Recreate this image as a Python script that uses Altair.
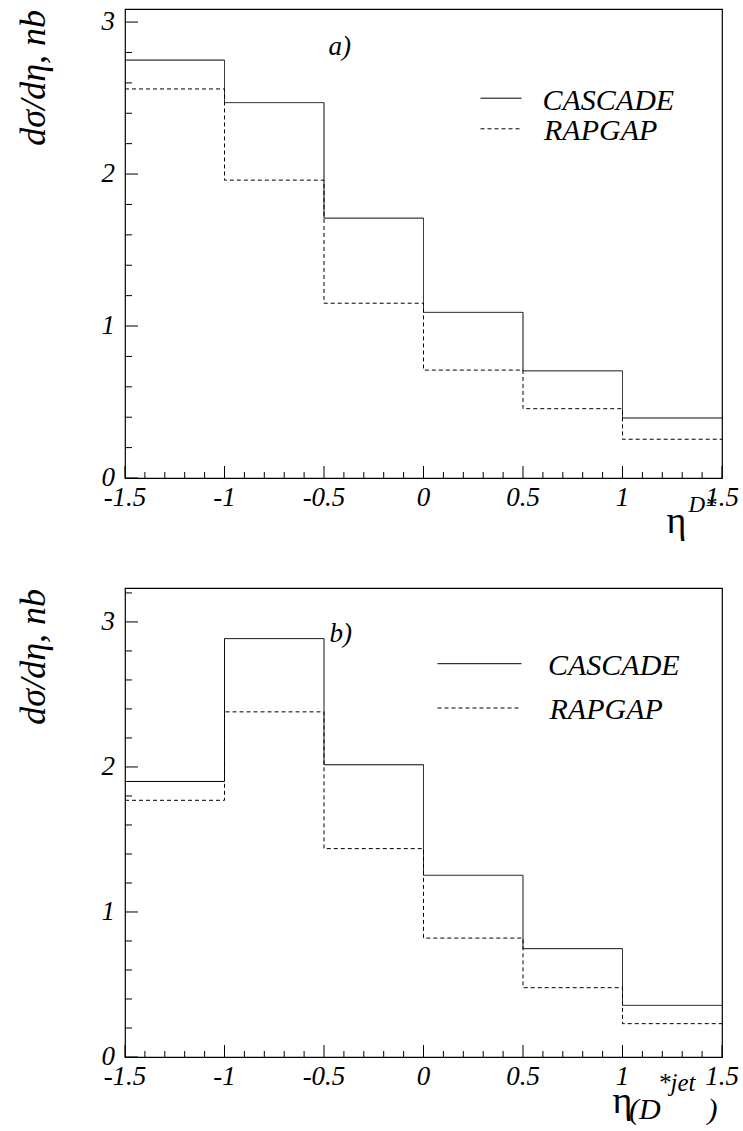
import altair as alt
import pandas as pd

# ---- data ----
edges = [-1.5, -1.0, -0.5, 0.0, 0.5, 1.0, 1.5]
series = ["CASCADE", "RAPGAP"]
cascade_a = [2.75, 2.47, 1.71, 1.09, 0.705, 0.395]
rapgap_a = [2.56, 1.96, 1.15, 0.71, 0.456, 0.255]
cascade_b = [1.90, 2.885, 2.015, 1.253, 0.747, 0.356]
rapgap_b = [1.77, 2.38, 1.437, 0.82, 0.478, 0.23]
ymax_a = 3.086
ymax_b = 3.234

x_major = [-1.5, -1.0, -0.5, 0.0, 0.5, 1.0, 1.5]
x_labels = ["-1.5", "-1", "-0.5", "0", "0.5", "1", "1.5"]
x_minor = [-1.4, -1.3, -1.2, -1.1, -0.9, -0.8, -0.7, -0.6, -0.4, -0.3, -0.2, -0.1,
           0.1, 0.2, 0.3, 0.4, 0.6, 0.7, 0.8, 0.9, 1.1, 1.2, 1.3, 1.4]
y_major = [0, 1, 2, 3]
y_labels = ["0", "1", "2", "3"]
y_minor = [0.2, 0.4, 0.6, 0.8, 1.2, 1.4, 1.6, 1.8, 2.2, 2.4, 2.6, 2.8, 3.2]
y_title = "dσ/dη, nb"

FONT = "Liberation Serif"
W, H = 597, 469


def txt(s, x, y, size, style="italic", align="left", angle=0):
    kw = dict(font=FONT, fontStyle=style, fontSize=size, align=align,
              baseline="alphabetic", color="black")
    if angle:
        kw["angle"] = angle
    return alt.Chart(pd.DataFrame({"s": [s]})).mark_text(**kw).encode(
        text="s:N", x=alt.value(x), y=alt.value(y))


def panel(cas, rap, ymax, tag, tag_pos, leg, xtitle):
    xs = alt.Scale(domain=[-1.5, 1.5], nice=False, zero=False)
    ys = alt.Scale(domain=[0, ymax], nice=False, zero=False)

    rows = []
    for name, vals in zip(series, [cas, rap]):
        for i, e in enumerate(edges):
            rows.append({"x": e, "y": vals[min(i, len(vals) - 1)], "series": name})
    df = pd.DataFrame(rows)

    lines = alt.Chart(df).mark_line(interpolate="step-after", color="black",
                                    strokeWidth=1).encode(
        x=alt.X("x:Q", scale=xs, axis=None),
        y=alt.Y("y:Q", scale=ys, axis=None),
        strokeDash=alt.StrokeDash("series:N", scale=alt.Scale(
            domain=series, range=[[1, 0], [4, 3]]), legend=None),
    )

    def xt(vals, length):
        return alt.Chart(pd.DataFrame({"v": vals})).mark_rule(
            color="black", strokeWidth=1).encode(
            x=alt.X("v:Q", scale=xs, axis=None),
            y=alt.value(H), y2=alt.value(H - length))

    def yt(vals, length):
        vals = [v for v in vals if v <= ymax]
        return alt.Chart(pd.DataFrame({"v": vals})).mark_rule(
            color="black", strokeWidth=1).encode(
            y=alt.Y("v:Q", scale=ys, axis=None),
            x=alt.value(0), x2=alt.value(length))

    xlab = alt.Chart(pd.DataFrame({"v": x_major, "t": x_labels})).mark_text(
        font=FONT, fontStyle="italic", fontSize=27, align="center",
        baseline="alphabetic", color="black").encode(
        x=alt.X("v:Q", scale=xs, axis=None), y=alt.value(H + 28), text="t:N")
    ylab = alt.Chart(pd.DataFrame({"v": y_major, "t": y_labels})).mark_text(
        font=FONT, fontStyle="italic", fontSize=27, align="right",
        baseline="middle", color="black").encode(
        y=alt.Y("v:Q", scale=ys, axis=None), x=alt.value(-10), text="t:N")

    ytitle = txt(y_title, -80, 1, 36, align="right", angle=270)

    # legend
    (lx1, lx2, ly1, ly2, tx1, tx2, tb1, tb2) = leg
    leg_solid = alt.Chart(pd.DataFrame({"s": [series[0]]})).mark_rule(
        color="black", strokeWidth=1).encode(
        x=alt.value(lx1), x2=alt.value(lx2), y=alt.value(ly1))
    leg_dash = alt.Chart(pd.DataFrame({"s": [series[1]]})).mark_rule(
        color="black", strokeWidth=1, strokeDash=[4, 3]).encode(
        x=alt.value(lx1), x2=alt.value(lx2), y=alt.value(ly2))
    leg_t1 = txt(series[0], tx1, tb1, 30)
    leg_t2 = txt(series[1], tx2, tb2, 30)

    tag_t = txt(tag, tag_pos[0], tag_pos[1], 27)

    xparts = [txt(t, px, py, size, style) for (t, px, py, size, style) in xtitle]

    anchor = alt.Chart(pd.DataFrame({"s": [0]})).mark_rule(
        color="white", strokeWidth=1).encode(
        x=alt.value(-123), y=alt.value(200), y2=alt.value(210))

    return alt.layer(
        lines, xt(x_major, 12), xt(x_minor, 6), yt(y_major, 13), yt(y_minor, 7),
        xlab, ylab, ytitle,
        leg_solid, leg_dash, leg_t1, leg_t2, tag_t, *xparts, anchor
    ).properties(width=W, height=H)


pa = panel(cascade_a, rapgap_a, ymax_a, "a)", (203.5, 45.5),
           (355.5, 396.5, 89.2, 119.8, 417.5, 419, 100.5, 130.8),
           [("η", 541.5, 523.5, 38, "normal"), ("D*", 563.5, 502.5, 23, "italic")])
pb = panel(cascade_b, rapgap_b, ymax_b, "b)", (204.5, 54),
           (312.5, 396.5, 75.7, 120, 423, 424.5, 87, 131),
           [("η", 487.5, 525, 38, "normal"), ("(D", 504, 531, 30, "italic"),
            ("*jet", 533, 503, 25, "italic"), (")", 582.5, 531, 30, "italic")])

chart = alt.vconcat(pa, pb, spacing=110, bounds="flush").properties(
    padding={"left": 0, "top": 7, "right": 0, "bottom": 0}
).configure_view(stroke="black", strokeWidth=1.2)

chart.save("out.html", embed_options={"renderer": "svg", "actions": False})
